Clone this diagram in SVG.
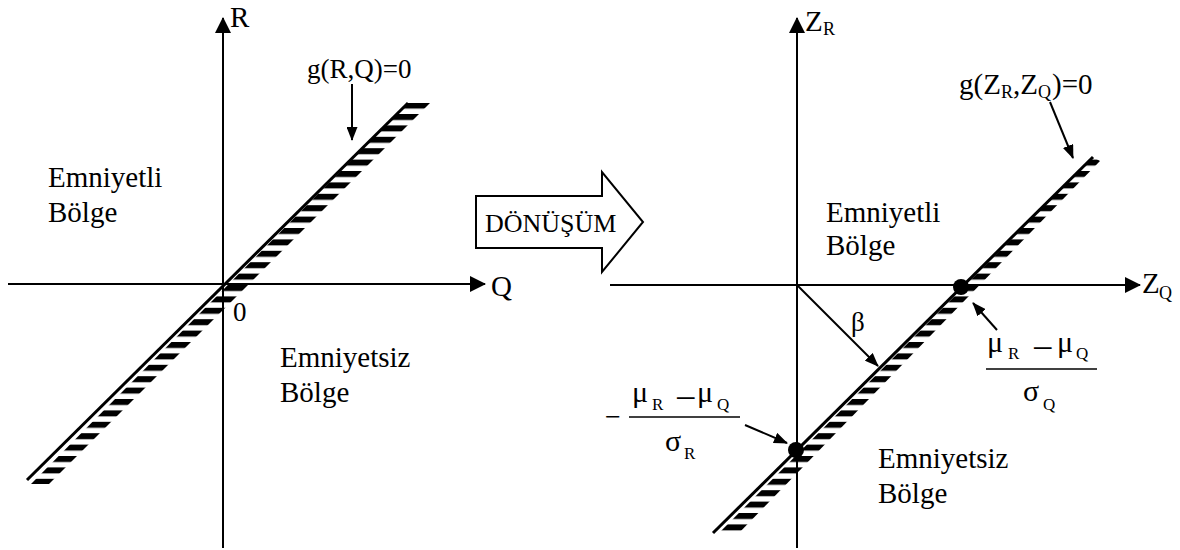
<svg xmlns="http://www.w3.org/2000/svg" width="1180" height="550" viewBox="0 0 1180 550" font-family="'Liberation Serif', 'DejaVu Serif', serif">
<style>
text{font-family:"Liberation Serif","DejaVu Serif",serif;fill:#000}
.lbl{font-size:29px}
.sub{font-size:18px}
.gr{font-size:30px}
.mn{font-size:38px}
.axis{stroke:#000;stroke-width:2;fill:none}
.ptr{stroke:#000;stroke-width:2;fill:none}
.lim{stroke:#000;stroke-width:3;fill:none}
.bar{stroke:#000;stroke-width:1.5}
</style>
<defs>
<marker id="big" markerUnits="userSpaceOnUse" markerWidth="16" markerHeight="16" refX="15" refY="8" orient="auto">
<path d="M0,0 L16,8 L0,16 z" fill="#000"/>
</marker>
<marker id="small" markerUnits="userSpaceOnUse" markerWidth="14" markerHeight="11" refX="13" refY="5.5" orient="auto">
<path d="M0,0 L14,5.5 L0,11 z" fill="#000"/>
</marker>
<pattern id="hatch" patternUnits="userSpaceOnUse" width="40" height="11.4">
<rect x="0" y="0" width="40" height="6" fill="#000"/>
</pattern>
</defs>

<g id="connectors">
<line class="axis" x1="223" y1="548" x2="223" y2="18" marker-end="url(#big)"/>
<line class="axis" x1="8" y1="284" x2="485" y2="284" marker-end="url(#big)"/>
<line class="axis" x1="797" y1="548" x2="797" y2="18" marker-end="url(#big)"/>
<line class="axis" x1="610" y1="285" x2="1140" y2="285" marker-end="url(#big)"/>
<line class="ptr" x1="352" y1="84" x2="352" y2="140" marker-end="url(#small)"/>
<line class="ptr" x1="1050" y1="102" x2="1073" y2="158" marker-end="url(#small)"/>
<line class="ptr" x1="997" y1="330" x2="973" y2="303" marker-end="url(#small)"/>
<line class="ptr" x1="745" y1="425" x2="787" y2="443" marker-end="url(#small)"/>
<line class="ptr" x1="797" y1="285" x2="878" y2="366" marker-end="url(#small)"/>
</g>

<g id="limit-left">
<polygon points="408,103 430,103 49,484 31,484" fill="url(#hatch)"/>
<line class="lim" x1="27" y1="480" x2="408" y2="103"/>
</g>

<g id="limit-right">
<polygon points="1093,157 1100,161 737,535 717,535" fill="url(#hatch)"/>
<line class="lim" x1="713" y1="533" x2="1093" y2="157"/>
<circle cx="961" cy="287" r="8" fill="#000"/>
<circle cx="796" cy="450" r="8" fill="#000"/>
</g>

<g id="label-R"><text class="lbl" x="230" y="27">R</text></g>
<g id="label-Q"><text class="lbl" x="491" y="296">Q</text></g>
<g id="label-0"><text x="233" y="321" style="font-size:27px">0</text></g>
<g id="label-gRQ"><text x="307" y="78" style="font-size:27px">g(R,Q)=0</text></g>
<g id="safe-left"><text class="lbl" x="48" y="187">Emniyetli</text><text class="lbl" x="48" y="222">Bölge</text></g>
<g id="unsafe-left"><text class="lbl" x="280" y="367">Emniyetsiz</text><text class="lbl" x="280" y="402">Bölge</text></g>

<g id="transform">
<polygon points="476,196 602,196 602,172 643,222 602,272 602,248 476,248" fill="#fff" stroke="#000" stroke-width="2"/>
<text x="485" y="232" style="font-size:26px">DÖNÜŞÜM</text>
</g>

<g id="label-ZR"><text class="lbl" x="805" y="31">Z</text><text class="sub" x="823" y="35">R</text></g>
<g id="label-ZQ"><text class="lbl" x="1142" y="293">Z</text><text class="sub" x="1159" y="299">Q</text></g>
<g id="label-gZ"><text class="lbl" x="959" y="94">g(Z</text><text class="sub" x="1001" y="98">R</text><text class="lbl" x="1013" y="94">,Z</text><text class="sub" x="1038" y="98">Q</text><text class="lbl" x="1052" y="94">)=0</text></g>
<g id="safe-right"><text class="lbl" x="826" y="222">Emniyetli</text><text class="lbl" x="826" y="255">Bölge</text></g>
<g id="unsafe-right"><text class="lbl" x="878" y="468">Emniyetsiz</text><text class="lbl" x="878" y="503">Bölge</text></g>
<g id="label-beta"><text x="851" y="331" style="font-size:27px">β</text></g>

<g id="frac-right">
<text class="gr" x="987" y="352">μ</text><text class="sub" x="1008" y="359" style="font-size:17px">R</text>
<text class="mn" x="1032" y="361">−</text>
<text class="gr" x="1057" y="352">μ</text><text class="sub" x="1076" y="359" style="font-size:17px">Q</text>
<line class="bar" x1="986" y1="369" x2="1097" y2="369"/>
<text class="gr" x="1023" y="401">σ</text><text class="sub" x="1043" y="410" style="font-size:17px">Q</text>
</g>

<g id="frac-left">
<text x="605" y="426" style="font-size:28px">−</text>
<text class="gr" x="632" y="402">μ</text><text class="sub" x="652" y="410" style="font-size:17px">R</text>
<text class="mn" x="675" y="411">−</text>
<text class="gr" x="697" y="402">μ</text><text class="sub" x="717" y="410" style="font-size:17px">Q</text>
<line class="bar" x1="629" y1="417" x2="740" y2="417"/>
<text class="gr" x="665" y="451">σ</text><text class="sub" x="684" y="459" style="font-size:17px">R</text>
</g>
</svg>
